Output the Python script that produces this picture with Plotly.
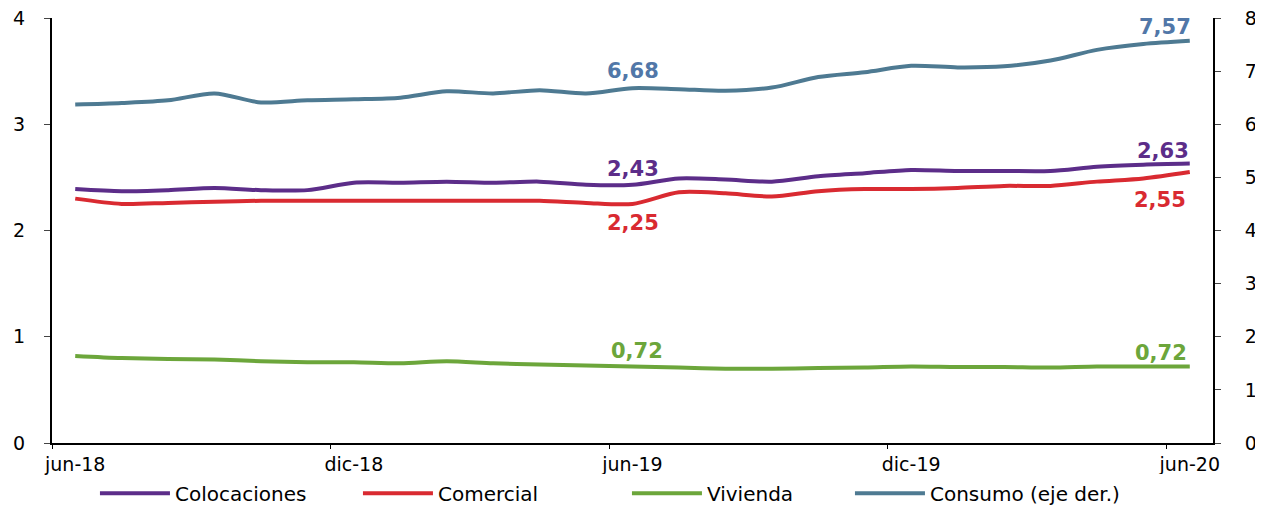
import plotly.graph_objects as go

months = ["jun-18","jul-18","ago-18","sep-18","oct-18","nov-18","dic-18","ene-19","feb-19","mar-19",
          "abr-19","may-19","jun-19","jul-19","ago-19","sep-19","oct-19","nov-19","dic-19","ene-20",
          "feb-20","mar-20","abr-20","may-20","jun-20"]
colocaciones = [2.39,2.37,2.38,2.40,2.38,2.38,2.45,2.45,2.46,2.45,2.46,2.43,2.43,2.49,2.48,2.46,
                2.51,2.54,2.57,2.56,2.56,2.56,2.60,2.62,2.63]
comercial = [2.30,2.25,2.26,2.27,2.28,2.28,2.28,2.28,2.28,2.28,2.28,2.26,2.25,2.36,2.35,2.32,
             2.37,2.39,2.39,2.40,2.42,2.42,2.46,2.49,2.55]
vivienda = [0.82,0.80,0.79,0.785,0.77,0.76,0.76,0.75,0.77,0.75,0.74,0.73,0.72,0.71,0.70,0.70,
            0.705,0.71,0.72,0.715,0.715,0.71,0.72,0.72,0.72]
consumo = [6.37,6.40,6.45,6.58,6.41,6.45,6.47,6.50,6.62,6.58,6.64,6.58,6.68,6.66,6.63,6.69,
           6.89,6.98,7.10,7.07,7.09,7.20,7.40,7.51,7.57]
tick_labels = ["jun-18","dic-18","jun-19","dic-19","jun-20"]
tick_idx = [0,6,12,18,24]

C_COL = "#5C2D89"
C_COM = "#D92A31"
C_VIV = "#6CA63B"
C_CON = "#4E7A92"
C_CON_LBL = "#5177A8"

FONT = "DejaVu Sans"
x = list(range(len(months)))

fig = go.Figure()
def add(name, y, color, lw, axis="y"):
    fig.add_trace(go.Scatter(x=x, y=y, name=name, mode="lines", yaxis=axis,
                             line=dict(color=color, width=4, shape="spline", smoothing=0.8),
                             legendwidth=lw, hoverinfo="skip"))
add("Colocaciones", colocaciones, C_COL, 178)
add("Comercial", comercial, C_COM, 184)
add("Vivienda", vivienda, C_VIV, 138)
add("Consumo (eje der.)", consumo, C_CON, 260, "y2")

def fmt(v):
    return f"{v:.2f}".replace(".", ",")

ann = []
def lab(i, v, yref, color, yshift, anchor="center", xshift=0):
    ann.append(dict(x=i, y=v, xref="x", yref=yref, text=f"<b>{fmt(v)}</b>", showarrow=False,
                    font=dict(family=FONT, size=21, color=color), xanchor=anchor,
                    yanchor="middle", yshift=yshift, xshift=xshift))
lab(12, consumo[12], "y2", C_CON_LBL, 17)
lab(24, consumo[24], "y2", C_CON_LBL, 14, "right", 3)
lab(12, colocaciones[12], "y", C_COL, 16)
lab(24, colocaciones[24], "y", C_COL, 13, "right", 1)
lab(12, comercial[12], "y", C_COM, -19)
lab(24, comercial[24], "y", C_COM, -28, "right", -2)
lab(12, vivienda[12], "y", C_VIV, 16, "center", 4)
lab(24, vivienda[24], "y", C_VIV, 14, "right", -1)

fig.update_layout(
    width=1255, height=499,
    margin=dict(l=44, r=50, t=10, b=64, autoexpand=False),
    paper_bgcolor="white", plot_bgcolor="white",
    font=dict(family=FONT, size=19, color="#000000"),
    showlegend=True,
    legend=dict(orientation="h", x=0.037, xanchor="left", y=-0.118, yanchor="middle",
                font=dict(family=FONT, size=20), itemwidth=70,
                traceorder="normal"),
    annotations=ann,
    xaxis=dict(range=[-0.5, 24.5], tickvals=tick_idx, ticktext=tick_labels, ticks="",
               showline=True, linecolor="#000000", linewidth=1.5, showgrid=False, zeroline=False,
               tickfont=dict(size=19), ticklabelstandoff=3,
               minor=dict(tickvals=[-0.5, 5.5, 11.5, 17.5, 23.5], ticks="outside", ticklen=4,
                          tickcolor="#000000", showgrid=False)),
    yaxis=dict(range=[0, 4], dtick=1, ticks="outside", ticklen=6, showline=True,
               linecolor="#000000", linewidth=2, showgrid=False, zeroline=False,
               tickfont=dict(size=19), ticklabelstandoff=15, ticklabeloverflow="allow"),
    yaxis2=dict(range=[0, 8], dtick=1, overlaying="y", side="right", ticks="outside", ticklen=6,
                showline=True, linecolor="#000000", linewidth=2, showgrid=False, zeroline=False,
                tickfont=dict(size=19), ticklabelstandoff=20, ticklabeloverflow="allow"),
)

fig.write_html("out.html")
